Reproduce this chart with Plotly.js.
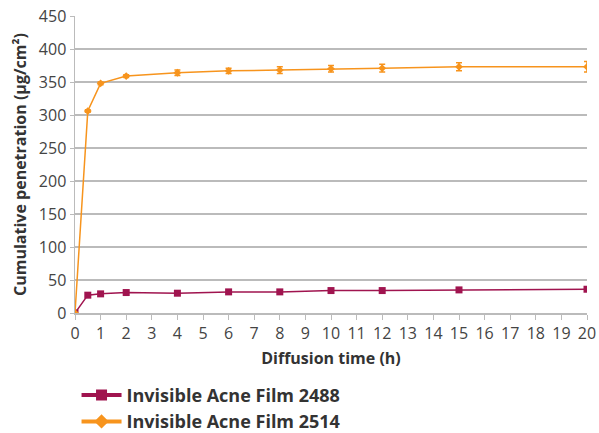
<!DOCTYPE html>
<html><head><meta charset="utf-8">
<script src="https://cdn.plot.ly/plotly-3.0.1.min.js"></script>
<style>html,body{margin:0;padding:0;background:#fff}</style>
</head><body>
<div id="chart" style="width:599px;height:433px"></div>
<script>
const time = [0, 0.5, 1, 2, 4, 6, 8, 10, 12, 15, 20];
const film2488 = [0, 27, 29, 31, 30, 32, 32, 34, 34, 35, 36];
const film2514 = [0, 306, 348, 359, 364, 367, 368, 370, 371, 373, 373];
const film2514Err = [0, 2, 2, 2, 4, 4, 5, 5, 6, 6, 8];
const seriesNames = ["Invisible Acne Film 2488", "Invisible Acne Film 2514"];
const seriesColors = ['#A0144F', '#F7941D'];
const xTicks = [0,1,2,3,4,5,6,7,8,9,10,11,12,13,14,15,16,17,18,19,20];
const yTicks = [0,50,100,150,200,250,300,350,400,450];

const traces = [
  {x: time, y: film2488, name: seriesNames[0], mode: 'lines+markers', showlegend: false,
   line: {color: seriesColors[0], width: 1.5},
   marker: {symbol: 'square', size: 7, color: seriesColors[0]}},
  {x: time, y: film2514, name: seriesNames[1], mode: 'lines+markers', showlegend: false,
   line: {color: seriesColors[1], width: 1.5},
   marker: {symbol: 'diamond', size: 6, color: seriesColors[1]},
   error_y: {type: 'data', array: film2514Err, visible: true, color: seriesColors[1], thickness: 1.5, width: 3}},
  {x: [null], y: [null], name: seriesNames[0], mode: 'lines+markers',
   line: {color: seriesColors[0], width: 4}, marker: {symbol: 'square', size: 11, color: seriesColors[0]}},
  {x: [null], y: [null], name: seriesNames[1], mode: 'lines+markers',
   line: {color: seriesColors[1], width: 4}, marker: {symbol: 'diamond', size: 11, color: seriesColors[1]}}
];
const layout = {
  width: 599, height: 433,
  margin: {l: 75, r: 12, t: 16, b: 120, autoexpand: false},
  paper_bgcolor: '#fff', plot_bgcolor: '#fff',
  font: {family: 'Open Sans, sans-serif', color: '#333'},
  showlegend: true,
  legend: {x: 0.003, xanchor: 'left', y: -0.215, yanchor: 'top',
           orientation: 'v', font: {size: 18, color: '#333', family: 'Open Sans, sans-serif', weight: 'bold'},
           tracegroupgap: 0, itemwidth: 40},
  xaxis: {range: [0, 20], tickvals: xTicks, ticktext: xTicks.map(String), automargin: false, tickangle: 0,
          showgrid: false, zeroline: false, showline: true, linecolor: '#bbb', linewidth: 1.5,
          ticks: 'outside', ticklen: 5, tickcolor: '#bbb', tickfont: {size: 16, color: '#444'},
          title: {text: 'Diffusion time (h)', font: {size: 16, color: '#333', weight: 'bold'}, standoff: 10}},
  yaxis: {range: [0, 450], tickvals: yTicks, ticktext: yTicks.map(String), automargin: false,
          showgrid: true, gridcolor: '#bbb', gridwidth: 1.5, zeroline: false,
          showline: true, linecolor: '#bbb', linewidth: 1.5,
          ticks: 'outside', ticklen: 4, tickcolor: '#bbb', tickfont: {size: 16, color: '#444'},
          title: {text: 'Cumulative penetration (μg/cm²)', font: {size: 16, color: '#333', weight: 'bold'}, standoff: 8}}
};
Plotly.newPlot('chart', traces, layout, {displayModeBar: false, staticPlot: true});
</script>
</body></html>
